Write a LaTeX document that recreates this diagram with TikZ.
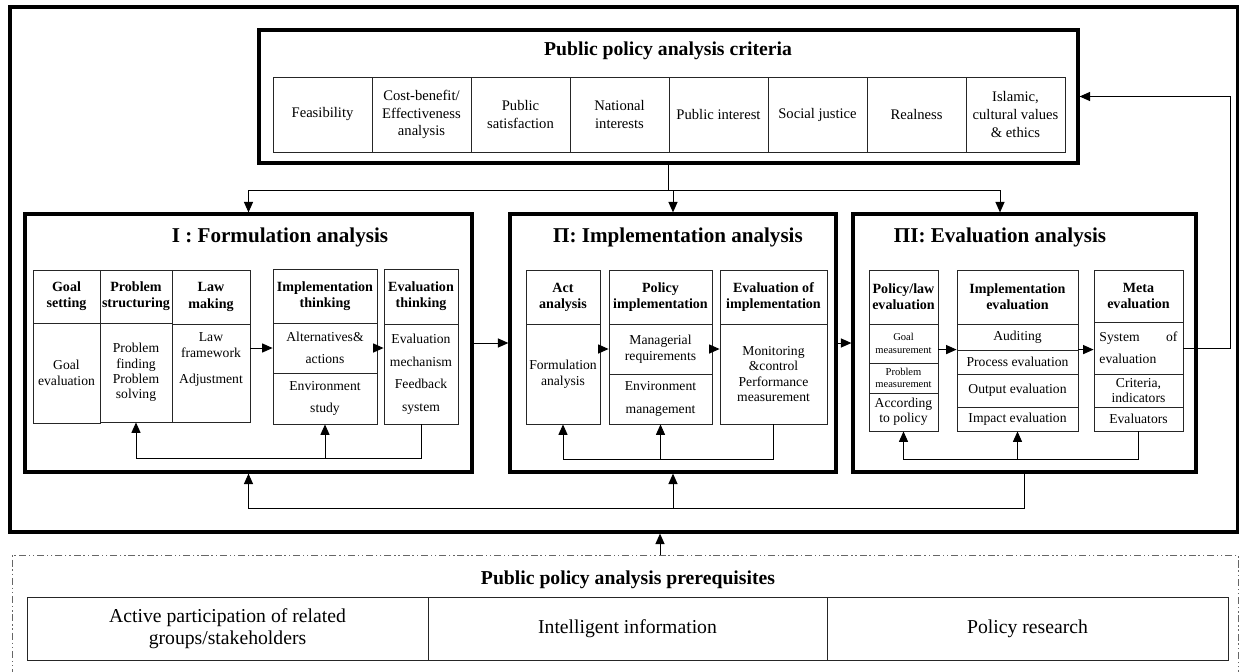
\documentclass[tikz,border=0pt]{standalone}
\usepackage{fontspec}
\setmainfont{Liberation Serif}
\usetikzlibrary{arrows.meta,positioning}

\begin{document}
\begin{tikzpicture}[x=0.025cm,y=-0.025cm,>={Triangle[length=7.5pt,width=6.5pt]},
  every node/.style={align=center,inner sep=1pt,font=\fontsize{9.7}{11}\selectfont},
  cell/.style 2 args={draw=black!85,line width=0.6pt,minimum width=#1*0.025cm,minimum height=#2*0.025cm},
  head/.style={font=\fontsize{10}{11.5}\selectfont\bfseries},
  panel/.style 2 args={draw,line width=2.3pt,minimum width=#1*0.025cm,minimum height=#2*0.025cm},
  title/.style={font=\fontsize{15}{17}\selectfont\bfseries},
  link/.style={line width=0.7pt}]
\useasboundingbox (0,0) rectangle (1239,672);

\node[panel={1228}{525}] (frame) at (624,269.5) {};

% criteria
\node[panel={819}{133}] (crit) at (668.5,96.5) {};
\node[font=\fontsize{14}{16}\selectfont\bfseries] (critt) at (668,51) {Public policy analysis criteria};
\foreach \t [count=\i] in {Feasibility,{Cost-benefit/\\Effectiveness\\analysis},{Public\\satisfaction},{National\\interests},Public interest,Social justice,Realness,{Islamic,\\cultural values\\\& ethics}}
  \node[cell={99}{75},font=\fontsize{10.4}{12.5}\selectfont] (c\i) at (273+99*\i-49.5,114.5) {\t};

% I
\node[panel={447}{258}] (form) at (248.5,343) {};
\node[title] (formt) at (280,237) {I : Formulation analysis};
\node[cell={67}{53},head] (gsh) at (66.5,296.5) {Goal\\setting};
\node[cell={67}{100}] (gsb) at (66.5,373) {Goal\\evaluation};
\node[cell={72}{53},head] (psh) at (136,296.5) {Problem\\structuring};
\node[cell={72}{99}] (psb) at (136,372.5) {Problem\\finding\\Problem\\solving};
\node[cell={78}{54},head] (lmh) at (211,297) {Law\\making};
\node[cell={78}{98}] (lmb) at (211,373) {Law\\framework\\[8pt]Adjustment\\[10pt]\mbox{}};
\node[cell={104}{54},head] (ith) at (325,296) {Implementation\\thinking};
\node[cell={104}{50}] (itm) at (325,348) {Alternatives\&\\[5pt]actions};
\node[cell={104}{51}] (itl) at (325,398.5) {Environment\\[5pt]study};
\node[cell={74}{55},head] (eth) at (421,296.5) {Evaluation\\thinking};
\node[cell={74}{100}] (etb) at (421,374) {Evaluation\\[5pt]mechanism\\[5pt]Feedback\\[5pt]system};

% II
\node[panel={326}{258}] (impl) at (673,343) {};
\node[title] (implt) at (678,237) {Π: Implementation analysis};
\node[cell={74}{54},head] (aah) at (563,297) {Act\\analysis};
\node[cell={74}{100}] (aab) at (563,374) {Formulation\\analysis};
\node[cell={103}{54},head] (pih) at (660.5,297) {Policy\\implementation};
\node[cell={103}{50}] (pim) at (660.5,349) {Managerial\\requirements};
\node[cell={103}{50}] (pil) at (660.5,399) {Environment\\[5pt]management};
\node[cell={107}{54},head] (eih) at (773.5,297) {Evaluation of\\implementation};
\node[cell={107}{100}] (eib) at (773.5,374) {Monitoring\\\&control\\Performance\\measurement};

% III
\node[panel={343}{258}] (eval) at (1024.5,343) {};
\node[title] (evalt) at (1000,237) {ΠI: Evaluation analysis};
\node[cell={69}{54},head] (plh) at (903.5,297) {Policy/law\\evaluation};
\node[cell={69}{39},font=\fontsize{7.5}{9}\selectfont] (plg) at (903.5,343.5) {Goal\\measurement};
\node[cell={69}{30},font=\fontsize{7.5}{9}\selectfont] (plp) at (903.5,378) {Problem\\measurement};
\node[cell={69}{38}] (pla) at (903.5,412) {According\\to policy};
\node[cell={121}{54},head] (ieh) at (1017.5,297) {Implementation\\evaluation};
\node[cell={121}{26}] (ie1) at (1017.5,337) {Auditing};
\node[cell={121}{24}] (ie2) at (1017.5,362) {Process evaluation};
\node[cell={121}{33}] (ie3) at (1017.5,390.5) {Output evaluation};
\node[cell={121}{24}] (ie4) at (1017.5,419) {Impact evaluation};
\node[cell={89}{52},head] (meh) at (1138.5,296) {Meta\\evaluation};
\node[cell={89}{52},text width=1.95cm,align=left] (me1) at (1138.5,348) {System\hfill of\\[5pt]evaluation};
\node[cell={89}{33},font=\fontsize{9.7}{10.5}\selectfont] (me2) at (1138.5,390.5) {Criteria,\\indicators};
\node[cell={89}{24}] (me3) at (1138.5,419) {Evaluators};

% prerequisites
\node[cell={1226}{121},draw=black!60,line width=0.5pt,dash pattern=on 5pt off 2pt on 1pt off 2pt on 1pt off 2pt] (pre) at (625,615.5) {};
\node[font=\fontsize{14}{16}\selectfont\bfseries] (pret) at (628,580) {Public policy analysis prerequisites};
\node[cell={401}{63},font=\fontsize{14}{16}\selectfont] (r1) at (227.5,628.5) {Active participation of related\\groups/stakeholders};
\node[cell={399}{63},font=\fontsize{14}{16}\selectfont] (r2) at (627.5,628.5) {Intelligent information};
\node[cell={401}{63},font=\fontsize{14}{16}\selectfont] (r3) at (1027.5,628.5) {Policy research};

% connectors
\coordinate (bar) at (668.5,190);
\draw[link] (crit.south) -- (bar);
\foreach \p in {form,impl} \draw[link,->] (bar) -| (\p.north);
\draw[link,->] (bar) -| (evalt |- eval.north);
\draw[link,->] (form.east) -- (impl.west);
\draw[link,->] (impl.east) -- (eval.west);

\draw[link,->] (itm.west -| lmb.east) -- (itm.west);
\draw[link,->] (itm.east) -- (etb.west |- itm.east);
\draw[link,->] (etb.south) -- ++(0,34) -| (psb.south);
\draw[link,->] (etb.south) ++(0,34) -| (itl.south);

\draw[link,->] (pim.west -| aab.east) -- (pim.west);
\draw[link,->] (pim.east) -- (eib.west |- pim.east);
\draw[link,->] (eib.south) -- ++(0,35) -| (aab.south);
\draw[link,->] (eib.south) ++(0,35) -| (pil.south);

\draw[link,->] (plg.east |- ie2.north west) -- (ie2.north west);
\draw[link,->] (ie2.north east) -- (ie2.north east -| me1.west);
\draw[link,->] (me3.south) -- ++(0,28) -| (pla.south);
\draw[link,->] (me3.south) ++(0,28) -| (ie4.south);
\draw[link,->] (me1.east) -- ++(47,0) |- (crit.east);

\draw[link,->] (eval.south) -- ++(0,35) -| (form.south);
\draw[link,->] (eval.south) ++(0,35) -| (impl.south);
\coordinate (up) at (660,555);
\draw[link,->] (up) -- (up |- frame.south);
\end{tikzpicture}
\end{document}
